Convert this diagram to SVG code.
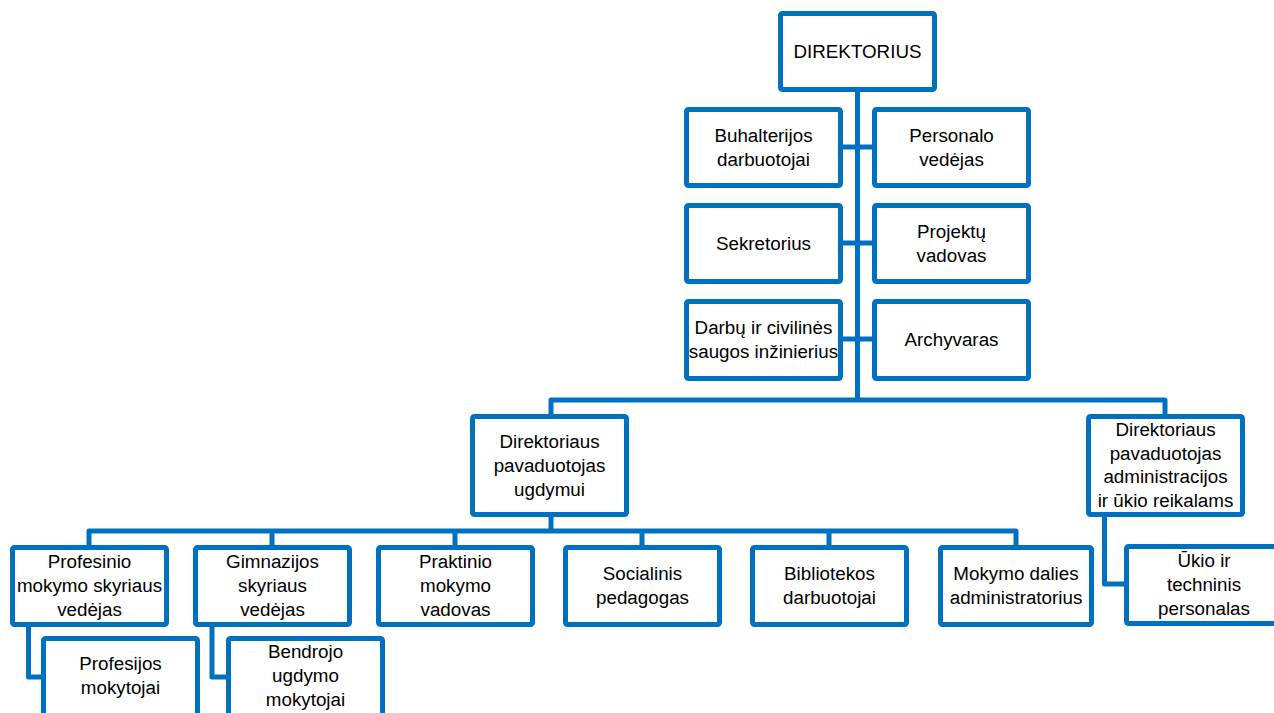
<svg xmlns="http://www.w3.org/2000/svg" width="1274" height="713" viewBox="0 0 1274 713">
<style>
rect{fill:#fff;stroke:#0070C0;stroke-width:5;}
.c path{fill:none;stroke:#0070C0;stroke-width:5;stroke-linejoin:round;}
text{font-family:"Liberation Sans",Arial,sans-serif;font-size:18.8px;fill:#000;text-anchor:middle;}
</style>
<g class="c" id="connectors">
<path d="M857.5 92V400"/>
<path d="M843 147H872M843 243H872M843 339H872"/>
<path d="M551 414V400H1165V414"/>
<path d="M551 517V531"/>
<path d="M89 545V531H1016V545"/>
<path d="M272 531V545M455 531V545M642 531V545M829 531V545"/>
<path d="M28.5 627V677H41"/>
<path d="M212 627V677H226"/>
<path d="M1104.5 517V584H1124"/>
</g>
<g id="direktorius"><rect x="780.5" y="13.5" width="154" height="76" rx="2"/><text x="857.5" y="58">DIREKTORIUS</text></g>
<g id="buhalterijos"><rect x="686.5" y="109.5" width="154" height="76" rx="2"/><text x="763.5" y="141.5">Buhalterijos</text><text x="763.5" y="165.5">darbuotojai</text></g>
<g id="personalo"><rect x="874.5" y="109.5" width="154" height="76" rx="2"/><text x="951.5" y="141.5">Personalo</text><text x="951.5" y="165.5">vedėjas</text></g>
<g id="sekretorius"><rect x="686.5" y="205.5" width="154" height="76" rx="2"/><text x="763.5" y="249.5">Sekretorius</text></g>
<g id="projektu"><rect x="874.5" y="205.5" width="154" height="76" rx="2"/><text x="951.5" y="237.5">Projektų</text><text x="951.5" y="261.5">vadovas</text></g>
<g id="darbu"><rect x="686.5" y="301.5" width="154" height="77" rx="2"/><text x="763.5" y="334">Darbų ir civilinės</text><text x="763.5" y="358">saugos inžinierius</text></g>
<g id="archyvaras"><rect x="874.5" y="301.5" width="154" height="77" rx="2"/><text x="951.5" y="346">Archyvaras</text></g>
<g id="pav-ugdymui"><rect x="472.5" y="416.5" width="154" height="98" rx="2"/><text x="549.5" y="447.5">Direktoriaus</text><text x="549.5" y="471.5">pavaduotojas</text><text x="549.5" y="495.5">ugdymui</text></g>
<g id="pav-admin"><rect x="1088.5" y="416.5" width="154" height="98" rx="2"/><text x="1165.5" y="435.5">Direktoriaus</text><text x="1165.5" y="459.5">pavaduotojas</text><text x="1165.5" y="483">administracijos</text><text x="1165.5" y="506.5">ir ūkio reikalams</text></g>
<g id="profesinio"><rect x="12.5" y="547.5" width="154" height="77" rx="2"/><text x="89.5" y="568">Profesinio</text><text x="89.5" y="592">mokymo skyriaus</text><text x="89.5" y="616">vedėjas</text></g>
<g id="gimnazijos"><rect x="195.5" y="547.5" width="154" height="77" rx="2"/><text x="272.5" y="568">Gimnazijos</text><text x="272.5" y="592">skyriaus</text><text x="272.5" y="616">vedėjas</text></g>
<g id="praktinio"><rect x="378.5" y="547.5" width="154" height="77" rx="2"/><text x="455.5" y="568">Praktinio</text><text x="455.5" y="592">mokymo</text><text x="455.5" y="616">vadovas</text></g>
<g id="socialinis"><rect x="565.5" y="547.5" width="154" height="77" rx="2"/><text x="642.5" y="580">Socialinis</text><text x="642.5" y="604">pedagogas</text></g>
<g id="bibliotekos"><rect x="752.5" y="547.5" width="154" height="77" rx="2"/><text x="829.5" y="580">Bibliotekos</text><text x="829.5" y="604">darbuotojai</text></g>
<g id="mokymo-dalies"><rect x="940.5" y="547.5" width="151" height="77" rx="2"/><text x="1016" y="580">Mokymo dalies</text><text x="1016" y="604">administratorius</text></g>
<g id="profesijos"><rect x="43.5" y="638.5" width="154" height="100" rx="2"/><text x="120.5" y="670">Profesijos</text><text x="120.5" y="694">mokytojai</text></g>
<g id="bendrojo"><rect x="228.5" y="638.5" width="154" height="100" rx="2"/><text x="305.5" y="658">Bendrojo</text><text x="305.5" y="682">ugdymo</text><text x="305.5" y="706">mokytojai</text></g>
<g id="ukio"><rect x="1126.5" y="546.5" width="160" height="77" rx="2"/><text x="1204" y="567">Ūkio ir</text><text x="1204" y="591">techninis</text><text x="1204" y="615">personalas</text></g>
</svg>
